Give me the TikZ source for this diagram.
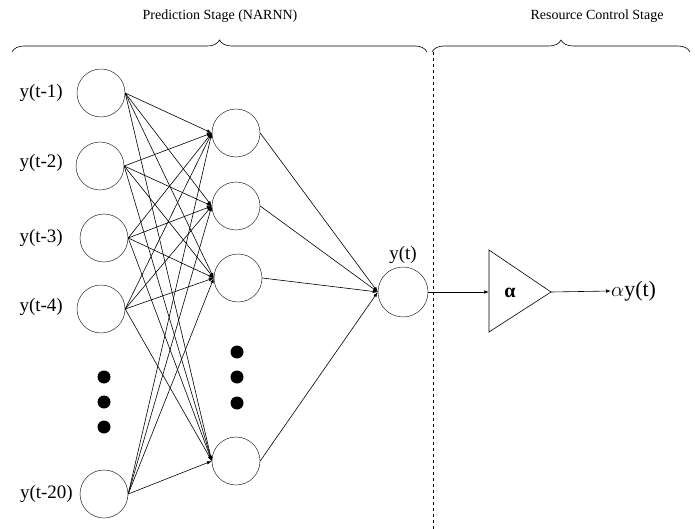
\documentclass[tikz,border=0pt]{standalone}
\usepackage{amsmath}
\usepackage{fontspec}
\setmainfont{Liberation Serif}
\usetikzlibrary{arrows.meta,decorations.pathreplacing}
\begin{document}
\begin{tikzpicture}[x=1pt,y=-1pt,
  neuron/.style={draw,circle,minimum size=48pt,inner sep=0pt},
  lbl/.style={font=\fontsize{19}{21}\selectfont,inner sep=0pt},
  conn/.style={-{Latex[length=5pt,width=3.5pt]},line width=0.6pt},
  dotc/.style={fill=black,circle,minimum size=13pt,inner sep=0pt},
  bracestyle/.style={decorate,decoration={brace,amplitude=12pt},line width=0.6pt}]
\useasboundingbox (0,0) rectangle (695,529);
% input neurons
\node[neuron] (i1) at (101,93) {};
\node[neuron] (i2) at (100,166) {};
\node[neuron] (i3) at (104,238) {};
\node[neuron] (i4) at (101,309) {};
\node[neuron] (i20) at (104,494) {};
\node[lbl,anchor=east] (l1) at (63,93) {y(t-1)};
\node[lbl,anchor=east] (l2) at (63,163) {y(t-2)};
\node[lbl,anchor=east] (l3) at (63,238) {y(t-3)};
\node[lbl,anchor=east] (l4) at (63,307) {y(t-4)};
\node[lbl,anchor=east] (l20) at (73,494) {y(t-20)};
\node[dotc] (d1) at (104,377) {};
\node[dotc] (d2) at (104,402) {};
\node[dotc] (d3) at (104,427) {};
% hidden neurons
\node[neuron] (h1) at (236,133) {};
\node[neuron] (h2) at (236,206) {};
\node[neuron] (h3) at (238,278) {};
\node[neuron] (h4) at (236,461) {};
\node[dotc] (e1) at (237,352) {};
\node[dotc] (e2) at (237,377) {};
\node[dotc] (e3) at (237,403) {};
% output
\node[neuron,minimum size=50pt] (o) at (403,292) {};
\node[lbl] (ol) at (403,255) {y(t)};
% connections
\foreach \i in {i1,i2,i3,i4,i20}{
  \foreach \h in {h1,h2,h3,h4}{
    \draw[conn] (\i.east) -- (\h.west);
  }
}
\foreach \h in {h1,h2,h3,h4}{
  \draw[conn] (\h.east) -- (o.west);
}
% dashed separator
\coordinate (ds) at (433,52);
\coordinate (de) at (433,529);
\draw[dashed,line width=0.6pt] (ds) -- (de);
% amplifier
\coordinate (ta) at (489,250);
\coordinate (tb) at (489,332);
\coordinate (tc) at (551,292);
\draw[line width=0.6pt] (ta) -- (tb) -- (tc) -- cycle;
\node[font=\fontsize{20}{22}\selectfont\bfseries] (alpha) at (510,293) {α};
\coordinate (tl) at (489,292);
\draw[conn] (o.east) -- (tl);
\node[lbl,font=\fontsize{22}{24}\selectfont,anchor=west] (out) at (611,291) {$\alpha$y(t)};
\draw[conn] (tc) -- (out.west);
% braces
\coordinate (b1s) at (12,52);
\coordinate (b1e) at (427,52);
\coordinate (b2s) at (432,52);
\coordinate (b2e) at (690,52);
\draw[bracestyle] (b1s) -- (b1e);
\draw[bracestyle] (b2s) -- (b2e);
\node[font=\fontsize{14}{16}\selectfont] (t1) at (220,16) {Prediction Stage (NARNN)};
\node[font=\fontsize{14}{16}\selectfont] (t2) at (597,16) {Resource Control Stage};
\end{tikzpicture}
\end{document}
